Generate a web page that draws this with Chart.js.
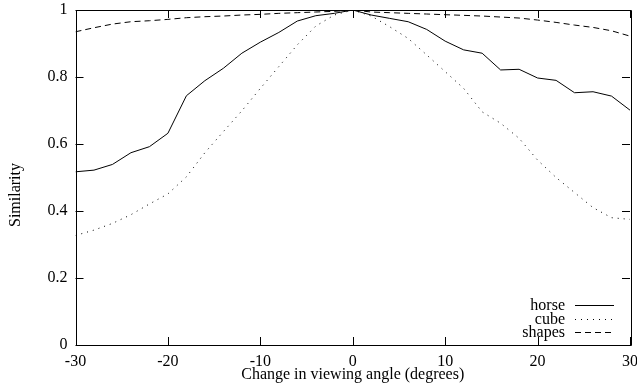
<!DOCTYPE html>
<html>
<head>
<meta charset="utf-8">
<script src="https://cdn.jsdelivr.net/npm/chart.js@4/dist/chart.umd.min.js"></script>
<style>
  html, body { margin: 0; padding: 0; background: #fff; }
  #wrap { width: 637px; height: 388px; }
</style>
</head>
<body>
<div id="wrap"><canvas id="chart" width="637" height="388"></canvas></div>
<script>
// Data
const angles = [-30, -28, -26, -24, -22, -20, -18, -16, -14, -12, -10, -8, -6, -4, -2,
  0, 2, 4, 6, 8, 10, 12, 14, 16, 18, 20, 22, 24, 26, 28, 30];
const horse = [0.517, 0.522, 0.539, 0.574, 0.592, 0.632, 0.744, 0.789, 0.826, 0.871, 0.904,
  0.933, 0.967, 0.983, 0.99, 1.0, 0.985, 0.975, 0.965, 0.942, 0.907, 0.881, 0.871, 0.821,
  0.823, 0.797, 0.79, 0.753, 0.756, 0.743, 0.701];
const cube = [0.327, 0.343, 0.363, 0.389, 0.421, 0.451, 0.502, 0.574, 0.637, 0.699, 0.766,
  0.831, 0.896, 0.952, 0.985, 1.0, 0.982, 0.95, 0.915, 0.866, 0.816, 0.766, 0.696, 0.662,
  0.617, 0.552, 0.5, 0.455, 0.41, 0.38, 0.375];
const shapes = [0.935, 0.947, 0.958, 0.965, 0.968, 0.972, 0.977, 0.98, 0.982, 0.985, 0.987,
  0.99, 0.992, 0.994, 0.996, 1.0, 0.994, 0.992, 0.99, 0.988, 0.986, 0.984, 0.982, 0.979,
  0.976, 0.97, 0.963, 0.955, 0.948, 0.938, 0.922];
const seriesNames = ['horse', 'cube', 'shapes'];
const xTicks = [-30, -20, -10, 0, 10, 20, 30];
const yTicks = [0, 0.2, 0.4, 0.6, 0.8, 1];
const yTitle = 'Similarity';
const xTitle = 'Change in viewing angle (degrees)';

const FONT = '"Liberation Serif", "Times New Roman", serif';
const FSIZE = 16;

/**
 * Box around the plot, inward ticks on all four sides, y title and the legend
 */
const gnuplotFrame = {
  id: 'gnuplotFrame',
  afterDatasetsDraw(chart) {
    const { ctx, chartArea: a, scales } = chart;
    const tl = 8;
    ctx.save();
    ctx.strokeStyle = '#000';
    ctx.lineWidth = 1;
    ctx.setLineDash([]);
    ctx.beginPath();
    ctx.rect(Math.round(a.left) + 0.5, Math.round(a.top) + 0.5,
      Math.round(a.right - a.left), Math.round(a.bottom - a.top));
    ctx.stroke();

    ctx.beginPath();
    xTicks.forEach(v => {
      const x = Math.round(scales.x.getPixelForValue(v)) + 0.5;
      ctx.moveTo(x, a.bottom); ctx.lineTo(x, a.bottom - tl);
      ctx.moveTo(x, a.top); ctx.lineTo(x, a.top + tl);
    });
    yTicks.forEach(v => {
      const y = Math.round(scales.y.getPixelForValue(v)) + 0.5;
      ctx.moveTo(a.left, y); ctx.lineTo(a.left + tl, y);
      ctx.moveTo(a.right, y); ctx.lineTo(a.right - tl, y);
    });
    ctx.stroke();

    ctx.font = FSIZE + 'px ' + FONT;
    ctx.fillStyle = '#000';
    ctx.textBaseline = 'middle';

    // y axis title, centred on the figure height like gnuplot does
    ctx.save();
    ctx.translate(16, 195);
    ctx.rotate(-Math.PI / 2);
    ctx.textAlign = 'center';
    ctx.fillText(yTitle, 0, 0);
    ctx.restore();

    // legend in the lower right corner
    const rows = [305, 318.5, 332];
    ctx.textAlign = 'right';
    chart.data.datasets.forEach((ds, i) => {
      const y = rows[i];
      ctx.fillText(ds.label, 565, y + 1);
      ctx.beginPath();
      ctx.setLineDash(ds.borderDash || []);
      ctx.strokeStyle = ds.borderColor;
      ctx.lineWidth = ds.borderWidth;
      ctx.moveTo(575, Math.round(y) + 0.5);
      ctx.lineTo(614, Math.round(y) + 0.5);
      ctx.stroke();
    });
    ctx.restore();
  }
};

function toPoints(values) {
  return angles.map((a, i) => ({ x: a, y: values[i] }));
}

const datasets = [
  { label: seriesNames[0], data: toPoints(horse), borderColor: '#000', borderWidth: 1, borderDash: [] },
  { label: seriesNames[1], data: toPoints(cube), borderColor: '#000', borderWidth: 1, borderDash: [1, 5] },
  { label: seriesNames[2], data: toPoints(shapes), borderColor: '#000', borderWidth: 1, borderDash: [6, 4] }
];

new Chart(document.getElementById('chart'), {
  type: 'line',
  data: {
    datasets: datasets.map(d => ({ ...d, pointRadius: 0, tension: 0, fill: false }))
  },
  options: {
    responsive: false,
    animation: false,
    devicePixelRatio: 1,
    layout: { padding: { top: 10, right: 7, left: 0, bottom: 0 } },
    plugins: { legend: { display: false }, tooltip: { enabled: false } },
    scales: {
      x: {
        type: 'linear',
        min: -30, max: 30,
        afterBuildTicks(scale) { scale.ticks = xTicks.map(v => ({ value: v })); },
        afterFit(scale) {
          scale.height = 43;
          scale.paddingLeft = 0;
          scale.paddingRight = 0;
        },
        grid: { display: false, drawTicks: false },
        border: { display: false },
        ticks: {
          color: '#000', font: { family: FONT, size: FSIZE }, padding: 7, maxRotation: 0,
          callback: v => String(v)
        },
        title: {
          display: true, text: xTitle, color: '#000',
          font: { family: FONT, size: FSIZE }, padding: { top: 0, bottom: 4 }
        }
      },
      y: {
        min: 0, max: 1,
        afterBuildTicks(scale) { scale.ticks = yTicks.map(v => ({ value: v })); },
        afterFit(scale) {
          scale.width = 75.5;
          scale.paddingTop = 0;
          scale.paddingBottom = 0;
        },
        grid: { display: false, drawTicks: false },
        border: { display: false },
        ticks: {
          color: '#000', font: { family: FONT, size: FSIZE }, padding: 8,
          callback: v => String(Math.round(v * 10) / 10)
        },
        title: { display: false }
      }
    }
  },
  plugins: [gnuplotFrame]
});
</script>
</body>
</html>
